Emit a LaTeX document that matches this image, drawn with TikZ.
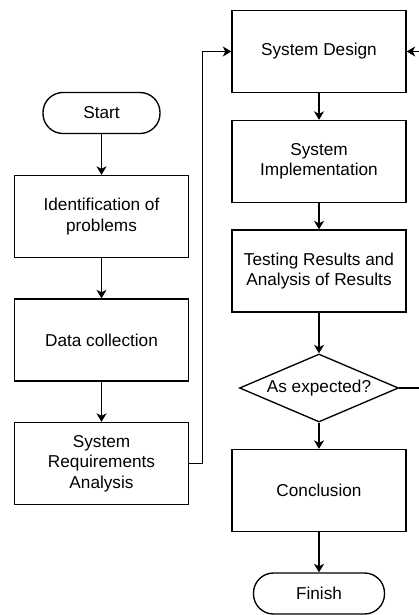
\documentclass[tikz,border=0pt]{standalone}
\usepackage{fontspec}
\setmainfont{Liberation Sans}
\usetikzlibrary{shapes.geometric,arrows.meta,calc}
\tikzstyle{box}=[draw,rectangle,minimum width=174pt,minimum height=82pt,align=center,inner sep=2pt]
\tikzstyle{term}=[draw,rectangle,rounded corners=20pt,minimum height=41pt,align=center]
\tikzstyle{cond}=[draw,diamond,aspect=2.34,minimum width=159pt,minimum height=68pt,inner sep=0pt,align=center]
\tikzstyle{flow}=[-{Stealth[length=8.5pt,width=10pt,inset=2.5pt]}]

\begin{document}
\begin{tikzpicture}[x=1pt,y=-1pt,line width=1.35pt,font=\fontsize{17.2}{20.5}\selectfont]
\clip (0,0) rectangle (419,615);
\fill[white] (0,0) rectangle (419,615);
% left column
\node[term, minimum width=117pt] (Start) at (101.5,113) {Start};
\node[box] (Ident) at ($(Start)+(0,103.5)$) {Identification of\\problems};
\node[box] (Data) at ($(Ident)+(0,123.5)$) {Data collection};
\node[box] (Req) at ($(Data)+(0,123.5)$) {System\\Requirements\\Analysis};
% right column
\node[box] (Design) at (319,51.5) {System Design};
\node[box] (Impl) at ($(Design)+(0,110)$) {System\\Implementation};
\node[box] (Test) at ($(Impl)+(0,109.5)$) {Testing Results and\\Analysis of Results};
\node[cond] (Check) at ($(Test)+(0,117)$) {As expected?};
\node[box] (Concl) at ($(Check)+(0,102.5)$) {Conclusion};
\node[term, minimum width=131pt] (Finish) at ($(Concl)+(0,103)$) {Finish};
\draw[flow] (Start) -- (Ident);
\draw[flow] (Ident) -- (Data);
\draw[flow] (Data) -- (Req);
\draw[flow] (Req.east) -- +(13,0) |- (Design.west);
\draw[flow] (Design) -- (Impl);
\draw[flow] (Impl) -- (Test);
\draw[flow] (Test) -- (Check);
\draw[flow] (Check) -- (Concl);
\draw[flow] (Concl) -- (Finish);
\draw[flow] (Check.east) -- +(40,0) |- (Design.east);
\end{tikzpicture}
\end{document}
